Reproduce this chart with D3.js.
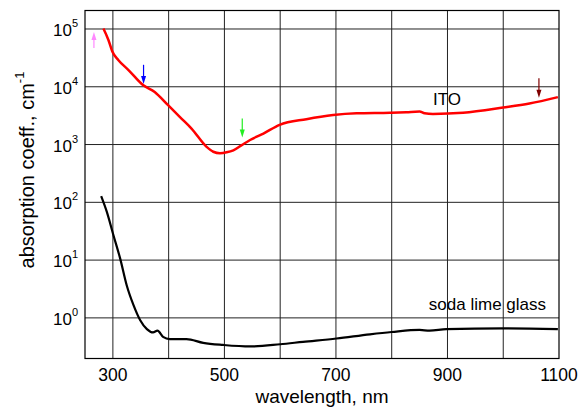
<!DOCTYPE html>
<html>
<head>
<meta charset="utf-8">
<script src="https://cdn.jsdelivr.net/npm/d3@7"></script>
<style>
  body { margin: 0; background: white; }
  text { font-family: Arial, "Liberation Sans", sans-serif; fill: black; }
</style>
</head>
<body>
<svg id="chart" width="586" height="409"></svg>
<script>
// ITO film absorption
const ito_wl = [283, 292, 299, 310, 328, 354, 375, 399, 423, 441, 468, 480, 492, 504, 516, 531, 546, 570, 599, 647, 695, 737, 797, 826, 850, 859, 874, 928, 1000, 1047, 1098];
const ito_k = [102000, 64600, 40700, 28800, 19500, 10700, 8130, 4790, 2820, 1890, 912, 750, 708, 733, 794, 977, 1200, 1550, 2190, 2750, 3240, 3470, 3550, 3630, 3720, 3470, 3390, 3550, 4370, 5130, 6610];

// soda lime glass substrate
const glass_wl = [279, 289, 301, 313, 325, 337, 349, 361, 372, 380, 390, 402, 432, 462, 498, 546, 600, 641, 701, 761, 800, 850, 868, 898, 1000, 1098];
const glass_k = [128, 69, 27, 10.7, 3.6, 1.66, 0.91, 0.64, 0.56, 0.60, 0.47, 0.43, 0.43, 0.37, 0.34, 0.32, 0.35, 0.385, 0.44, 0.52, 0.57, 0.62, 0.60, 0.64, 0.66, 0.64];

// laser lines marked with arrows
const laser_wl = [266, 355, 532, 1064];
const laser_tail = [46800, 24000, 2820, 14100];
const laser_tip = [89100, 11200, 1320, 6460];
const laser_color = ['#ff88ff', '#0000ff', '#22ee22', '#800000'];

const x_ticks = [300, 500, 700, 900, 1100];
const x_grid = [300, 400, 500, 600, 700, 800, 900, 1000];
const y_exps = [0, 1, 2, 3, 4, 5];

const plot_left = 85, plot_right = 559, plot_top = 10.5, plot_bottom = 358.5;

const x = d3.scaleLinear().domain([250, 1100]).range([plot_left, plot_right]);
const y = d3.scaleLog().domain([Math.pow(10, -0.703), Math.pow(10, 5.32)]).range([plot_bottom, plot_top]);

const svg = d3.select('#chart');

// grid lines
svg.append('g').selectAll('line')
    .data(x_grid)
    .join('line')
    .attr('x1', d => x(d)).attr('x2', d => x(d))
    .attr('y1', plot_top).attr('y2', plot_bottom)
    .attr('stroke', '#222').attr('stroke-width', 1);

svg.append('g').selectAll('line')
    .data(y_exps)
    .join('line')
    .attr('x1', plot_left).attr('x2', plot_right)
    .attr('y1', d => y(Math.pow(10, d))).attr('y2', d => y(Math.pow(10, d)))
    .attr('stroke', '#222').attr('stroke-width', 1);

// frame
svg.append('rect')
    .attr('x', plot_left).attr('y', plot_top)
    .attr('width', plot_right - plot_left).attr('height', plot_bottom - plot_top)
    .attr('fill', 'none').attr('stroke', 'black').attr('stroke-width', 1.2);

// x tick labels
svg.append('g').selectAll('text')
    .data(x_ticks)
    .join('text')
    .attr('x', d => x(d))
    .attr('y', 381)
    .attr('text-anchor', 'middle')
    .style('font-size', '17.5px')
    .text(d => d);

// y tick labels: 10 with exponent
const ylab = svg.append('g').selectAll('text')
    .data(y_exps)
    .join('text')
    .attr('x', 78)
    .attr('y', d => y(Math.pow(10, d)) + 7)
    .attr('text-anchor', 'end')
    .style('font-size', '17px');
ylab.append('tspan').text('10');
ylab.append('tspan').attr('dy', -9).style('font-size', '11px').text(d => d);

// axis titles
svg.append('text')
    .attr('x', 322).attr('y', 403)
    .attr('text-anchor', 'middle')
    .style('font-size', '19px')
    .text('wavelength, nm');

const ytitle = svg.append('text')
    .attr('transform', 'translate(34,170) rotate(-90)')
    .attr('text-anchor', 'middle')
    .style('font-size', '20px');
ytitle.append('tspan').text('absorption coeff., cm');
ytitle.append('tspan').attr('dy', -10).style('font-size', '13px').text('-1');

// curves
const line = d3.line()
    .x(d => x(d[0]))
    .y(d => y(d[1]))
    .curve(d3.curveMonotoneX);

svg.append('path')
    .datum(glass_wl.map((w, i) => [w, glass_k[i]]))
    .attr('d', line)
    .attr('fill', 'none')
    .attr('stroke', 'black')
    .attr('stroke-width', 2.2);

svg.append('path')
    .datum(ito_wl.map((w, i) => [w, ito_k[i]]))
    .attr('d', line)
    .attr('fill', 'none')
    .attr('stroke', '#ff0000')
    .attr('stroke-width', 2.5);

// arrows for the laser wavelengths
const arrows = svg.append('g').selectAll('g')
    .data(laser_wl.map((w, i) => ({wl: w, tail: laser_tail[i], tip: laser_tip[i], color: laser_color[i]})))
    .join('g');

arrows.append('line')
    .attr('x1', d => x(d.wl)).attr('x2', d => x(d.wl))
    .attr('y1', d => y(d.tail))
    .attr('y2', d => y(d.tip) + (y(d.tip) > y(d.tail) ? -6 : 6))
    .attr('stroke', d => d.color)
    .attr('stroke-width', 1.2);

arrows.append('path')
    .attr('d', function(d) {
        let xp = x(d.wl), yt = y(d.tip);
        let s = y(d.tip) > y(d.tail) ? -1 : 1;   // head points down or up
        return 'M' + xp + ',' + yt + 'L' + (xp - 2.5) + ',' + (yt + s * 8) + 'L' + (xp + 2.5) + ',' + (yt + s * 8) + 'Z';
    })
    .attr('fill', d => d.color);

// curve labels
svg.append('text')
    .attr('x', 447).attr('y', 105)
    .attr('text-anchor', 'middle')
    .style('font-size', '17px')
    .text('ITO');

svg.append('text')
    .attr('x', 546).attr('y', 310)
    .attr('text-anchor', 'end')
    .style('font-size', '17px')
    .text('soda lime glass');
</script>
</body>
</html>
